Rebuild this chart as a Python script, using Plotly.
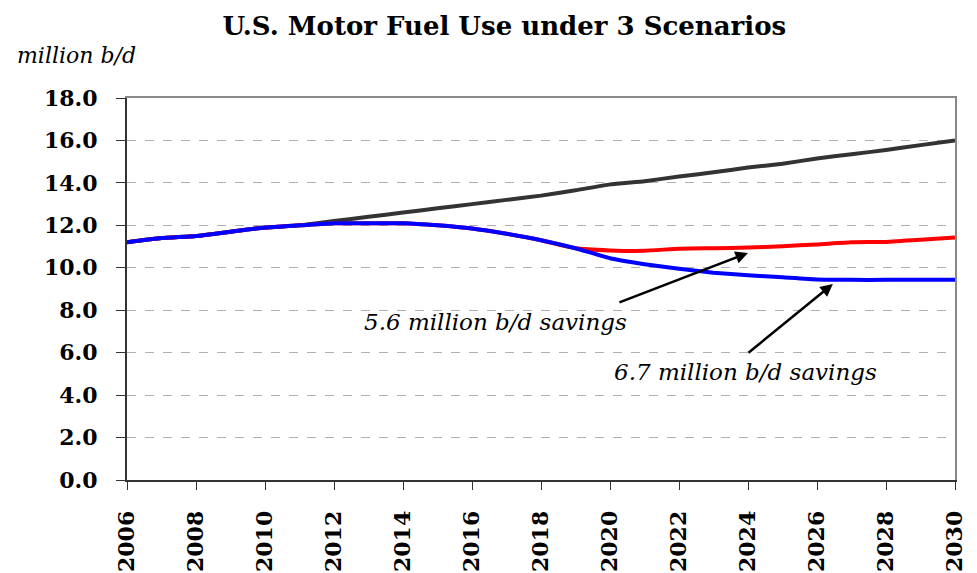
import plotly.graph_objects as go

years = list(range(2006, 2031))
reference = [11.2, 11.4, 11.5, 11.7, 11.9, 12.0, 12.2, 12.4, 12.6, 12.8, 13.0, 13.2, 13.4, 13.65,
             13.93, 14.08, 14.3, 14.5, 14.72, 14.9, 15.15, 15.35, 15.55, 15.78, 16.0]
scenario_a = [11.2, 11.4, 11.5, 11.7, 11.9, 12.0, 12.1, 12.1, 12.1, 12.0, 11.85, 11.6, 11.3, 10.92,
              10.82, 10.8, 10.9, 10.92, 10.95, 11.02, 11.1, 11.2, 11.22, 11.32, 11.43]
scenario_b = [11.2, 11.4, 11.5, 11.7, 11.9, 12.0, 12.1, 12.1, 12.1, 12.0, 11.85, 11.6, 11.3, 10.92,
              10.45, 10.17, 9.95, 9.77, 9.65, 9.55, 9.45, 9.43, 9.43, 9.43, 9.43]
x_ticks = list(range(2006, 2031, 2))
y_ticks = [0, 2, 4, 6, 8, 10, 12, 14, 16, 18]

FONT = "DejaVu Serif"

fig = go.Figure()
fig.add_trace(go.Scatter(x=years, y=reference, mode="lines",
                         line=dict(color="#333333", width=4, shape="spline", smoothing=0.4)))
fig.add_trace(go.Scatter(x=years, y=scenario_a, mode="lines",
                         line=dict(color="#ff0000", width=4, shape="spline", smoothing=0.4)))
fig.add_trace(go.Scatter(x=years, y=scenario_b, mode="lines",
                         line=dict(color="#0000ff", width=4, shape="spline", smoothing=0.4)))
# invisible trace for frame axes
fig.add_trace(go.Scatter(x=[2006, 2030], y=[0, 18], mode="markers", marker=dict(opacity=0),
                         xaxis="x2", yaxis="y2", hoverinfo="skip"))

fig.update_layout(
    width=977, height=573,
    margin=dict(l=119, r=30, t=90, b=101, autoexpand=False),
    paper_bgcolor="white", plot_bgcolor="white",
    showlegend=False,
    font=dict(family=FONT, color="black", size=21),
    title=dict(text="<b>U.S. Motor Fuel Use under 3 Scenarios</b>", x=0.508, xanchor="center",
               y=0.968, yanchor="middle", font=dict(family=FONT, size=26, color="black")),
    xaxis=dict(range=[2006, 2030], tickvals=x_ticks, ticktext=[f"<b>{v}</b>" for v in x_ticks],
               tickangle=-90, ticks="outside", ticklen=8, tickcolor="#333333",
               showline=True, linecolor="#333333", linewidth=2, showgrid=False, zeroline=False,
               ticklabelstandoff=12, automargin=False,
               tickfont=dict(family=FONT, size=22)),
    yaxis=dict(range=[0, 18], tickvals=y_ticks, ticktext=[f"<b>{v:.1f}</b>" for v in y_ticks],
               ticks="outside", ticklen=9, tickcolor="#333333", automargin=False,
               showline=True, linecolor="#333333", linewidth=2, ticklabelstandoff=14,
               showgrid=True, gridcolor="#b0b0b0", griddash="dash", gridwidth=1, zeroline=False,
               tickfont=dict(family=FONT, size=22)),
    xaxis2=dict(range=[2006, 2030], overlaying="x", side="top", showline=True, linecolor="#888888",
                linewidth=2, showticklabels=False, ticks="", showgrid=False, zeroline=False),
    yaxis2=dict(range=[0, 18], overlaying="y", side="right", showline=True, linecolor="#888888",
                linewidth=2, showticklabels=False, ticks="", showgrid=False, zeroline=False),
    annotations=[
        dict(text="<i>million b/d</i>", xref="paper", yref="paper", x=-0.135, y=1.112,
             xanchor="left", yanchor="middle", showarrow=False, font=dict(family=FONT, size=22)),
        dict(text="<i>5.6 million b/d savings</i>", x=2016.67, y=7.45, xref="x", yref="y",
             showarrow=False, font=dict(family=FONT, size=23)),
        dict(text="<i>6.7 million b/d savings</i>", x=2023.94, y=5.1, xref="x", yref="y",
             showarrow=False, font=dict(family=FONT, size=23)),
        dict(text="", x=2024.0, y=10.7, ax=2020.23, ay=8.34, xref="x", yref="y", axref="x", ayref="y",
             showarrow=True, arrowhead=2, arrowsize=1, arrowwidth=2.5, arrowcolor="black"),
        dict(text="", x=2026.46, y=9.24, ax=2023.97, ay=5.94, xref="x", yref="y", axref="x", ayref="y",
             showarrow=True, arrowhead=2, arrowsize=1, arrowwidth=2.5, arrowcolor="black"),
    ],
)

fig.write_html("out.html")
